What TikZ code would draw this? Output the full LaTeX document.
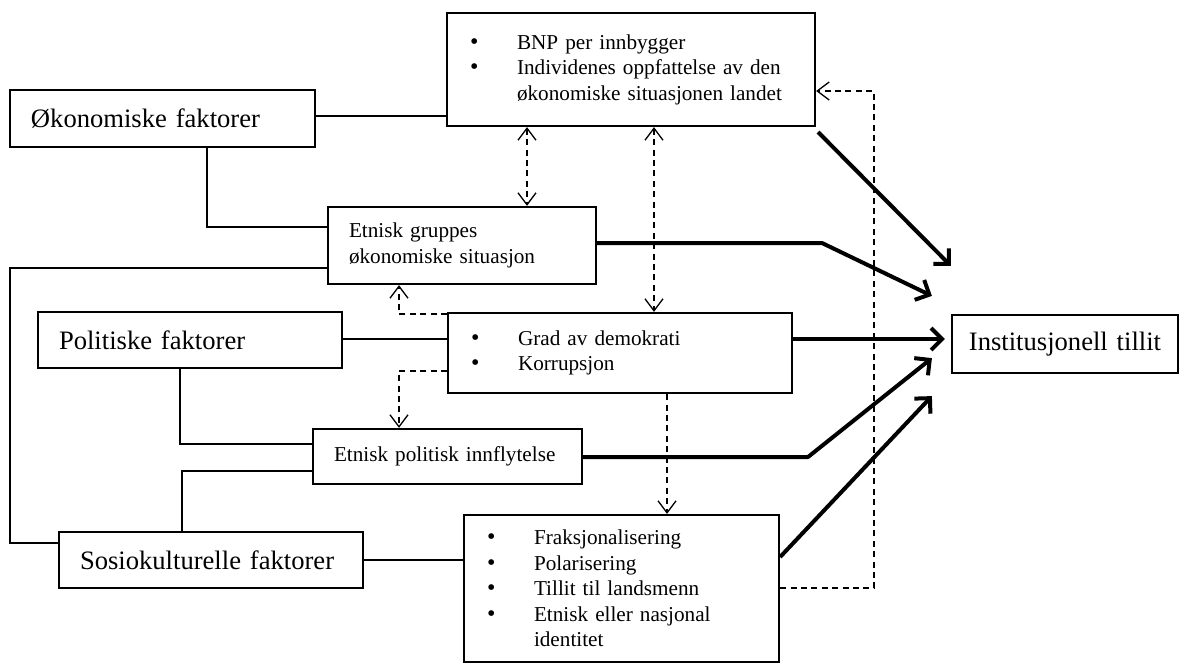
\documentclass[tikz,border=0pt]{standalone}
\usepackage{fontspec}
\setmainfont{Liberation Serif}
\usetikzlibrary{arrows.meta}
\def\padding{42}
\tikzset{
    boks/.style={draw, line width=1.1pt, inner xsep=10.5pt, inner ysep=2pt, align=left,
        font=\fontsize{10.6}{12.8}\selectfont},
    stor/.style={font=\fontsize{13.3}{16}\selectfont},
    linje/.style={line width=0.8pt},
    stiplet/.style={line width=0.65pt, dash pattern=on 3pt off 2.2pt,
        >={Straight Barb[length=6pt,width=9pt]}},
    pil/.style={line width=2pt, line join=round, ->,
        >={Straight Barb[length=5.5pt,width=11pt]}}
}
\newcommand{\boks}[7][]{
    \pgfmathsetmacro{\tb}{(#5-#3-\padding)*0.5}
    \pgfmathsetmacro{\hb}{(#6-#4)*0.5}
    \node[boks,text width=\tb pt,minimum height=\hb pt,#1] (#2) at ({(#3+#5)/2},{(#4+#6)/2}) {#7};
}
\newcommand{\punkt}{\makebox[24.5pt][l]{\hspace{1pt}{\fontsize{12}{12.8}\selectfont\textbullet}}}
\newcommand{\inn}{\hspace*{24.5pt}}

\begin{document}
\begin{tikzpicture}[x=0.5pt,y=-0.5pt]
    \useasboundingbox (0,0) rectangle (1184,665);
    \boks[stor]{okon}{10}{90}{315}{147}{Økonomiske faktorer}
    \boks[stor]{polit}{38}{312}{342}{368}{Politiske faktorer}
    \boks[stor]{sosio}{59}{532}{363}{588}{Sosiokulturelle faktorer}
    \boks[stor,align=center,text width=107pt,inner xsep=3pt]{inst}{952}{315}{1178}{373}{Institusjonell tillit}
    \boks{bnp}{447}{13}{815}{126}{\punkt BNP per innbygger\\ \punkt Individenes oppfattelse av den\\ \inn økonomiske situasjonen landet}
    \boks{etngr}{328}{207}{596}{284}{Etnisk gruppes\\ økonomiske situasjon}
    \boks{grad}{448}{313}{792}{393}{\punkt Grad av demokrati\\ \punkt Korrupsjon}
    \boks{etnpol}{313}{429}{582}{484}{Etnisk politisk innflytelse}
    \boks{frak}{464}{515}{779}{662}{\punkt Fraksjonalisering\\ \punkt Polarisering\\ \punkt Tillit til landsmenn\\ \punkt Etnisk eller nasjonal\\ \inn identitet}

    \draw[linje] (okon.east |- 0,116) -- (bnp.west |- 0,116);
    \draw[linje] (okon.south -| 207,0) |- (etngr.west |- 0,227);
    \draw[linje] (etngr.west |- 0,268) -| (10,543) -- (sosio.west |- 0,543);
    \draw[linje] (polit.east |- 0,339) -- (grad.west |- 0,339);
    \draw[linje] (polit.south -| 180,0) |- (etnpol.west |- 0,444);
    \draw[linje] (etnpol.west |- 0,471) -| (sosio.north -| 182,0);
    \draw[linje] (sosio.east) -- (frak.west |- sosio.east);

    \draw[stiplet,<->] (bnp.south -| 527,0) -- (etngr.north -| 527,0);
    \draw[stiplet,<->] (bnp.south -| 654,0) -- (grad.north -| 654,0);
    \draw[stiplet,->] (grad.west |- 0,314) -| (etngr.south -| 399,0);
    \draw[stiplet,->] (grad.west |- 0,371) -| (etnpol.north -| 399,0);
    \draw[stiplet,->] (grad.south -| 667,0) -- (frak.north -| 667,0);
    \draw[stiplet,->] (frak.east |- 0,588) -| (874,91) -- (bnp.east |- 0,91);

    \coordinate (tip1) at ([shift={(0,-48)}]inst.north west);
    \coordinate (tip2) at ([shift={(-19,-18)}]inst.north west);
    \coordinate (tip4) at ([shift={(-19,-16)}]inst.south west);
    \coordinate (tip5) at ([shift={(-19,22)}]inst.south west);
    \draw[pil] ([shift={(2,5)}]bnp.south east) -- (tip1);
    \draw[pil] (etngr.east |- 0,243) -- (822,243) -- (tip2);
    \draw[pil,shorten >=3pt] (grad.east |- 0,339) -- (inst.west |- 0,339);
    \draw[pil] (etnpol.east |- 0,457) -- (808,457) -- (tip4);
    \draw[pil] (frak.east |- 0,557) -- (tip5);
\end{tikzpicture}
\end{document}
